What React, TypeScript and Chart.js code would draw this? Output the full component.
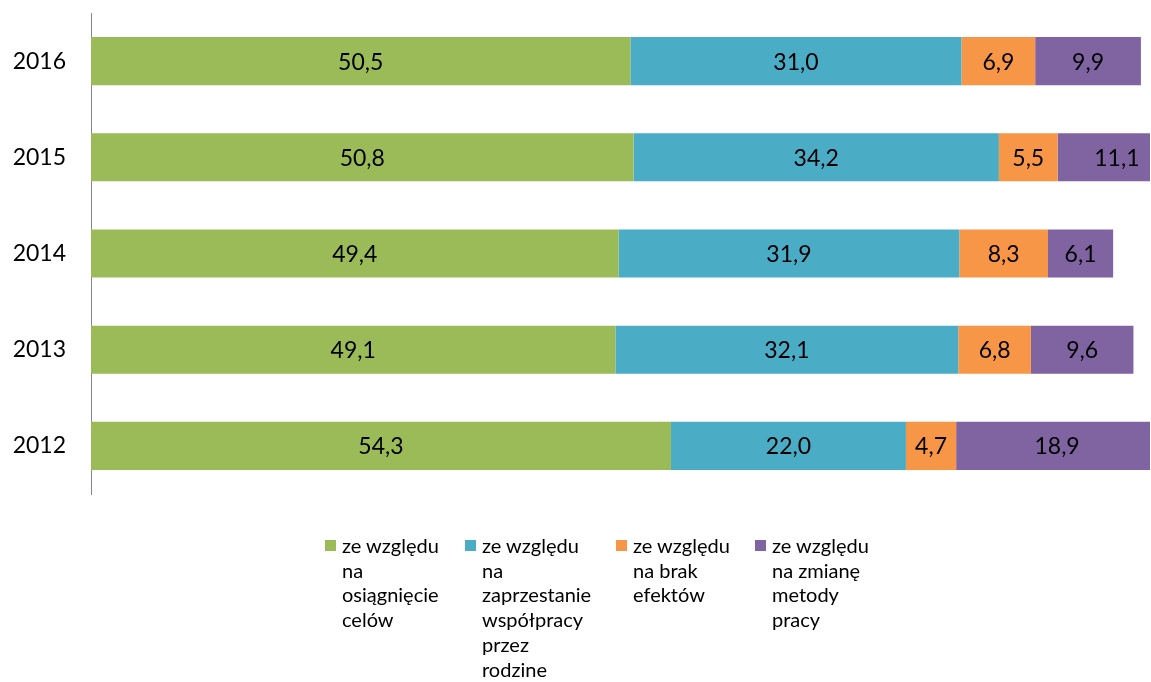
import React, { useEffect, useRef } from "react";
import { Chart, registerables } from "chart.js";

Chart.register(...registerables);

const years = ["2016", "2015", "2014", "2013", "2012"];
const celow = [50.5, 50.8, 49.4, 49.1, 54.3];
const rodzina = [31.0, 34.2, 31.9, 32.1, 22.0];
const brak = [6.9, 5.5, 8.3, 6.8, 4.7];
const metoda = [9.9, 11.1, 6.1, 9.6, 18.9];

const seriesNames = [
  ["ze względu", "na", "osiągnięcie", "celów"],
  ["ze względu", "na", "zaprzestanie", "współpracy", "przez", "rodzine"],
  ["ze względu", "na brak", "efektów"],
  ["ze względu", "na zmianę", "metody", "pracy"],
];
const colors = ["#9BBB59", "#4BACC6", "#F79646", "#8064A2"];
const seriesData = [celow, rodzina, brak, metoda];

const FONT = "Lato, 'Open Sans', sans-serif";

const labelPlugin = {
  id: "segLabels",
  afterDatasetsDraw(chart: any) {
    const ctx = chart.ctx;
    ctx.save();
    ctx.font = `23px ${FONT}`;
    ctx.fillStyle = "#000";
    ctx.textAlign = "center";
    ctx.textBaseline = "middle";
    chart.data.datasets.forEach((ds: any, di: number) => {
      const meta = chart.getDatasetMeta(di);
      meta.data.forEach((el: any, i: number) => {
        const v = ds.data[i];
        const x = (el.x + el.base) / 2;
        ctx.fillText(v.toFixed(1).replace(".", ","), x, el.y + 1);
      });
    });
    ctx.restore();
  },
};

export default function App() {
  const ref = useRef<HTMLCanvasElement>(null);
  useEffect(() => {
    document.body.style.margin = "0";
    const chart = new Chart(ref.current!, {
      type: "bar",
      data: {
        labels: years,
        datasets: seriesData.map((d, i) => ({
          label: seriesNames[i].join(" "),
          data: d,
          backgroundColor: colors[i],
          borderWidth: 0,
          barPercentage: 0.5,
          categoryPercentage: 1,
        })),
      },
      options: {
        indexAxis: "y",
        responsive: false,
        devicePixelRatio: 1,
        animation: false,
        layout: { padding: { top: 13, bottom: 188, left: 0, right: 1 } },
        plugins: { legend: { display: false }, tooltip: { enabled: false } },
        scales: {
          x: { stacked: true, display: false, min: 0, max: 99.15 },
          y: {
            stacked: true,
            grid: { display: false, drawTicks: false },
            border: { display: true, color: "#868686", width: 1 },
            ticks: { color: "#000", padding: 25, font: { family: FONT, size: 23 } },
            afterFit: (s: any) => {
              s.width = 91;
              s.paddingTop = 0;
              s.paddingBottom = 0;
            },
          },
        },
      },
      plugins: [labelPlugin],
    });
    return () => chart.destroy();
  }, []);

  const legendX = [325, 465, 616, 755];
  return (
    <div style={{ position: "relative", width: 1151, height: 682, overflow: "hidden" }}>
      <canvas ref={ref} width={1151} height={682} style={{ display: "block" }} />
      {seriesNames.map((lines, i) => (
        <div
          key={i}
          style={{ position: "absolute", left: legendX[i], top: 533, fontFamily: FONT, fontSize: 20, lineHeight: "24.7px", color: "#000" }}
        >
          <div style={{ position: "absolute", left: 0, top: 7, width: 11, height: 11, background: colors[i] }} />
          <div style={{ marginLeft: 17, whiteSpace: "nowrap" }}>
            {lines.map((l, j) => (
              <div key={j}>{l}</div>
            ))}
          </div>
        </div>
      ))}
    </div>
  );
}
